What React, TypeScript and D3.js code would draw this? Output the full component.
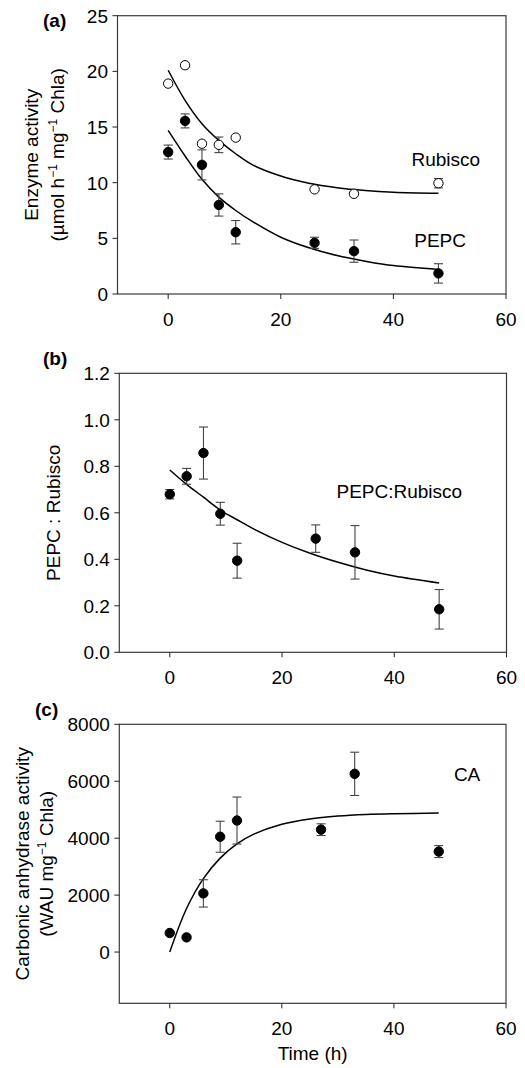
import React, { useRef, useEffect } from "react";
import * as d3 from "d3";

// sampling times (h)
const times = [0, 3, 6, 9, 12, 26, 33, 48];
const caTimes = [0, 3, 6, 9, 12, 27, 33, 48];

// (a) enzyme activity, umol h-1 mg-1 Chla
const rubisco = [18.9, 20.55, 13.5, 13.4, 14.05, 9.4, 9.0, 9.95];
const rubiscoErr = [0, 0, 0, 0.7, 0, 0, 0, 0.42];
const pepc = [12.75, 15.55, 11.6, 8.0, 5.55, 4.6, 3.85, 1.85];
const pepcErr = [0.63, 0.63, 1.35, 1.0, 1.05, 0.5, 1.0, 0.87];

// (b) PEPC : Rubisco ratio
const ratio = [0.68, 0.757, 0.857, 0.596, 0.394, 0.489, 0.43, 0.185];
const ratioErr = [0.02, 0.034, 0.112, 0.049, 0.075, 0.059, 0.115, 0.085];

// (c) carbonic anhydrase activity, WAU mg-1 Chla
const ca = [670, 515, 2060, 4050, 4620, 4300, 6260, 3530];
const caErr = [0, 0, 480, 545, 825, 205, 760, 210];

// fitted curves
const fitTimes = [0, 3, 6, 9, 12, 15, 20, 25, 30, 35, 40, 48];
const rubiscoFit = [20.1, 17.4, 15.3, 13.8, 12.6, 11.6, 10.6, 9.95, 9.55, 9.3, 9.15, 9.05];
const pepcFit = [14.7, 12.4, 10.3, 8.7, 7.5, 6.5, 5.1, 4.15, 3.45, 2.95, 2.55, 2.2];
const ratioFit = [0.784, 0.722, 0.667, 0.612, 0.57, 0.53, 0.473, 0.426, 0.387, 0.354, 0.328, 0.298];
const caFit = [0, 1530, 2580, 3300, 3800, 4140, 4490, 4675, 4775, 4830, 4857, 4880];

const xTicks = [0, 20, 40, 60];

const FONT = "'Liberation Sans', Arial, Helvetica, sans-serif";

type Series = { x: number[]; y: number[]; err: number[]; open: boolean };
type Fit = { x: number[]; y: number[] };
type Note = { text: string; x: number; y: number };
type LabelLine = { pos: number; parts: { t: string; sup?: boolean }[] };

type Panel = {
  tag: string;
  tagX: number;
  tagY: number;
  left: number;
  right: number;
  top: number;
  bottom: number;
  yDomain: [number, number];
  yTicks: number[];
  yFormat: (v: number) => string;
  series: Series[];
  fits: Fit[];
  notes: Note[];
  yLabel: LabelLine[];
};

const panels: Panel[] = [
  {
    tag: "(a)",
    tagX: 43,
    tagY: 27,
    left: 117.5,
    right: 506,
    top: 15.7,
    bottom: 294,
    yDomain: [0, 25],
    yTicks: [0, 5, 10, 15, 20, 25],
    yFormat: (v) => String(v),
    series: [
      { x: times, y: rubisco, err: rubiscoErr, open: true },
      { x: times, y: pepc, err: pepcErr, open: false },
    ],
    fits: [
      { x: fitTimes, y: rubiscoFit },
      { x: fitTimes, y: pepcFit },
    ],
    notes: [
      { text: "Rubisco", x: 43.2, y: 11.5 },
      { text: "PEPC", x: 43.7, y: 4.2 },
    ],
    yLabel: [
      { pos: 38, parts: [{ t: "Enzyme activity" }] },
      {
        pos: 64,
        parts: [
          { t: "(µmol h" },
          { t: "−1", sup: true },
          { t: " mg" },
          { t: "−1", sup: true },
          { t: " Chla)" },
        ],
      },
    ],
  },
  {
    tag: "(b)",
    tagX: 43,
    tagY: 364.5,
    left: 119.3,
    right: 506.5,
    top: 373.3,
    bottom: 652.3,
    yDomain: [0, 1.2],
    yTicks: [0, 0.2, 0.4, 0.6, 0.8, 1.0, 1.2],
    yFormat: d3.format(".1f"),
    series: [{ x: times, y: ratio, err: ratioErr, open: false }],
    fits: [{ x: fitTimes, y: ratioFit }],
    notes: [{ text: "PEPC:Rubisco", x: 29.7, y: 0.664 }],
    yLabel: [{ pos: 60, parts: [{ t: "PEPC : Rubisco" }] }],
  },
  {
    tag: "(c)",
    tagX: 35,
    tagY: 716,
    left: 119.3,
    right: 506,
    top: 724.3,
    bottom: 1003.3,
    yDomain: [-1800, 8000],
    yTicks: [0, 2000, 4000, 6000, 8000],
    yFormat: (v) => String(v),
    series: [{ x: caTimes, y: ca, err: caErr, open: false }],
    fits: [{ x: fitTimes, y: caFit }],
    notes: [{ text: "CA", x: 50.7, y: 6020 }],
    yLabel: [
      { pos: 29, parts: [{ t: "Carbonic anhydrase activity" }] },
      {
        pos: 52.5,
        parts: [{ t: "(WAU mg" }, { t: "−1", sup: true }, { t: " Chla)" }],
      },
    ],
  },
];

const App = () => {
  const svgRef = useRef<SVGSVGElement>(null);

  useEffect(() => {
    const svg = d3.select(svgRef.current);
    svg.selectAll("*").remove();

    panels.forEach((p, pi) => {
      const g = svg.append("g").attr("font-family", FONT).attr("font-size", 19);
      const x = d3.scaleLinear().domain([-9, 60]).range([p.left, p.right]);
      const y = d3.scaleLinear().domain(p.yDomain).range([p.bottom, p.top]);

      // frame
      g.append("rect")
        .attr("x", p.left)
        .attr("y", p.top)
        .attr("width", p.right - p.left)
        .attr("height", p.bottom - p.top)
        .attr("fill", "none")
        .attr("stroke", "#3a3a3a")
        .attr("stroke-width", 1.2);

      // y ticks
      p.yTicks.forEach((t) => {
        g.append("line")
          .attr("x1", p.left - 5)
          .attr("x2", p.left)
          .attr("y1", y(t))
          .attr("y2", y(t))
          .attr("stroke", "#222");
        g.append("text")
          .attr("x", p.left - 9.5)
          .attr("y", y(t))
          .attr("dy", "0.36em")
          .attr("text-anchor", "end")
          .text(p.yFormat(t));
      });

      // x ticks
      xTicks.forEach((t) => {
        g.append("line")
          .attr("x1", x(t))
          .attr("x2", x(t))
          .attr("y1", p.bottom)
          .attr("y2", p.bottom + 5)
          .attr("stroke", "#222");
        g.append("text")
          .attr("x", x(t))
          .attr("y", p.bottom + 32)
          .attr("text-anchor", "middle")
          .text(String(t));
      });

      // fitted curves
      const line = d3
        .line<[number, number]>()
        .x((d) => x(d[0]))
        .y((d) => y(d[1]))
        .curve(d3.curveCatmullRom);
      p.fits.forEach((f) => {
        g.append("path")
          .attr("d", line(f.x.map((v, i) => [v, f.y[i]] as [number, number])))
          .attr("fill", "none")
          .attr("stroke", "#000")
          .attr("stroke-width", 1.5);
      });

      // error bars + points
      p.series.forEach((s) => {
        s.x.forEach((xv, i) => {
          const e = s.err[i];
          if (e > 0) {
            const cx = x(xv);
            const y1 = y(s.y[i] - e);
            const y2 = y(s.y[i] + e);
            g.append("line")
              .attr("x1", cx).attr("x2", cx)
              .attr("y1", y1).attr("y2", y2)
              .attr("stroke", "#444").attr("stroke-width", 1.1);
            [y1, y2].forEach((yy) => {
              g.append("line")
                .attr("x1", cx - 4.5).attr("x2", cx + 4.5)
                .attr("y1", yy).attr("y2", yy)
                .attr("stroke", "#444").attr("stroke-width", 1.1);
            });
          }
        });
        g.selectAll(null)
          .data(s.x.map((v, i) => [v, s.y[i]]))
          .join("circle")
          .attr("cx", (d) => x(d[0]))
          .attr("cy", (d) => y(d[1]))
          .attr("r", 4.7)
          .attr("fill", s.open ? "#fff" : "#000")
          .attr("stroke", "#000")
          .attr("stroke-width", 1);
      });

      // annotations
      p.notes.forEach((n) => {
        g.append("text").attr("x", x(n.x)).attr("y", y(n.y)).text(n.text);
      });

      // panel tag
      g.append("text")
        .attr("x", p.tagX)
        .attr("y", p.tagY)
        .attr("font-weight", "bold")
        .text(p.tag);

      // y axis label
      const cy = (p.top + p.bottom) / 2;
      p.yLabel.forEach((ln) => {
        const txt = g
          .append("text")
          .attr("transform", `translate(${ln.pos},${cy}) rotate(-90)`)
          .attr("text-anchor", "middle");
        ln.parts.forEach((part, k) => {
          const prevSup = k > 0 && ln.parts[k - 1].sup;
          const ts = txt.append("tspan").text(part.t);
          if (part.sup) ts.attr("font-size", 12).attr("dy", -7);
          else if (prevSup) ts.attr("dy", 7);
        });
      });

      // x axis title on last panel
      if (pi === panels.length - 1) {
        g.append("text")
          .attr("x", (p.left + p.right) / 2)
          .attr("y", 1060)
          .attr("text-anchor", "middle")
          .text("Time (h)");
      }
    });
  }, []);

  return (
    <svg
      ref={svgRef}
      width={525}
      height={1068}
      style={{ position: "absolute", left: 0, top: 0, background: "#fff" }}
    ></svg>
  );
};

export default App;
